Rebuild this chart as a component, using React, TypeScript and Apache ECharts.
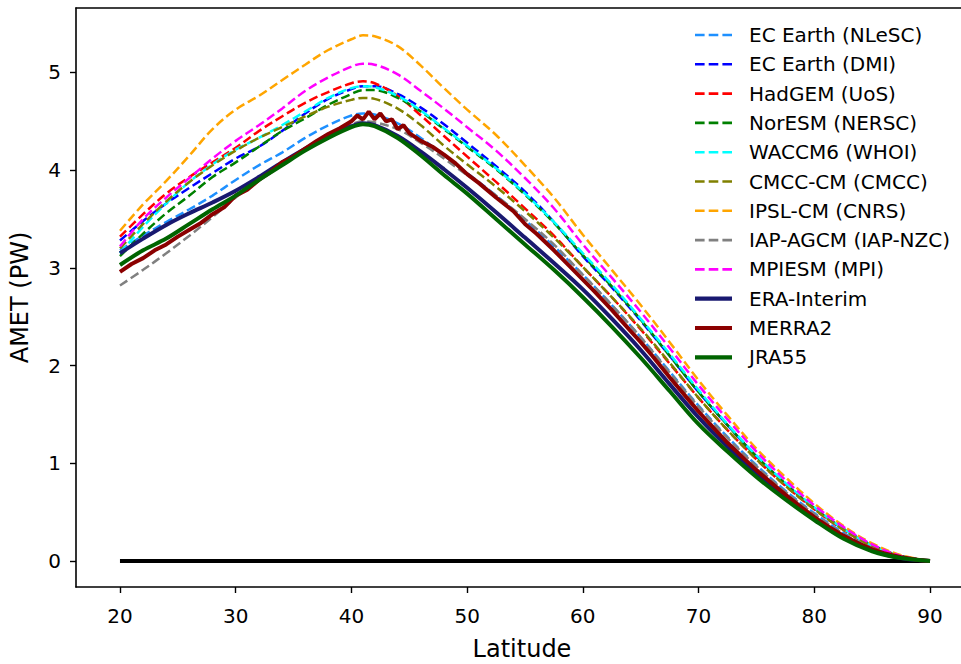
import React, { useEffect, useRef } from "react";
import * as echarts from "echarts";

const LAT = [20, 22, 24, 26, 28, 30, 32, 34, 36, 38, 40, 41, 42, 44, 46, 48, 50, 52.5, 55, 57.5, 60, 62.5, 65, 67.5, 70, 72.5, 75, 77.5, 80, 82.5, 85, 87.5, 90];

const EC_NLESC = [3.18, 3.33, 3.47, 3.60, 3.74, 3.90, 4.05, 4.18, 4.33, 4.46, 4.56, 4.58, 4.57, 4.48, 4.33, 4.15, 3.97, 3.74, 3.49, 3.22, 2.93, 2.62, 2.29, 1.94, 1.59, 1.27, 0.98, 0.72, 0.49, 0.29, 0.13, 0.04, 0.0];
const EC_DMI = [3.28, 3.48, 3.66, 3.82, 3.97, 4.12, 4.24, 4.40, 4.58, 4.73, 4.83, 4.86, 4.86, 4.78, 4.64, 4.47, 4.28, 4.04, 3.78, 3.47, 3.12, 2.80, 2.46, 2.10, 1.73, 1.39, 1.07, 0.79, 0.54, 0.33, 0.16, 0.05, 0.0];
const HADGEM = [3.32, 3.55, 3.76, 3.93, 4.08, 4.23, 4.40, 4.55, 4.69, 4.80, 4.89, 4.91, 4.89, 4.76, 4.56, 4.35, 4.14, 3.88, 3.61, 3.33, 3.01, 2.70, 2.37, 2.02, 1.67, 1.34, 1.04, 0.77, 0.53, 0.32, 0.15, 0.05, 0.0];
const NORESM = [3.12, 3.35, 3.56, 3.74, 3.93, 4.08, 4.24, 4.40, 4.53, 4.67, 4.78, 4.82, 4.82, 4.74, 4.60, 4.42, 4.24, 4.01, 3.75, 3.46, 3.13, 2.81, 2.47, 2.10, 1.73, 1.39, 1.07, 0.79, 0.54, 0.33, 0.16, 0.05, 0.0];
const WACCM6 = [3.15, 3.42, 3.66, 3.88, 4.06, 4.21, 4.33, 4.46, 4.60, 4.74, 4.84, 4.86, 4.85, 4.76, 4.61, 4.43, 4.25, 4.02, 3.76, 3.47, 3.15, 2.83, 2.48, 2.12, 1.75, 1.40, 1.08, 0.80, 0.55, 0.33, 0.16, 0.05, 0.0];
const CMCC = [3.20, 3.45, 3.68, 3.88, 4.05, 4.20, 4.33, 4.44, 4.55, 4.65, 4.72, 4.74, 4.73, 4.63, 4.46, 4.25, 4.06, 3.83, 3.58, 3.31, 3.01, 2.70, 2.38, 2.03, 1.67, 1.34, 1.04, 0.77, 0.53, 0.32, 0.15, 0.05, 0.0];
const IPSL = [3.38, 3.65, 3.89, 4.15, 4.42, 4.62, 4.76, 4.92, 5.08, 5.23, 5.34, 5.38, 5.37, 5.27, 5.07, 4.84, 4.62, 4.36, 4.05, 3.72, 3.34, 2.98, 2.62, 2.24, 1.85, 1.49, 1.15, 0.86, 0.59, 0.36, 0.18, 0.06, 0.0];
const IAP = [2.82, 2.98, 3.15, 3.33, 3.52, 3.72, 3.90, 4.06, 4.22, 4.36, 4.47, 4.50, 4.49, 4.42, 4.28, 4.12, 3.95, 3.74, 3.50, 3.24, 2.93, 2.62, 2.29, 1.93, 1.58, 1.26, 0.97, 0.71, 0.48, 0.28, 0.13, 0.04, 0.0];
const MPI = [3.22, 3.50, 3.72, 3.92, 4.12, 4.30, 4.46, 4.63, 4.81, 4.95, 5.06, 5.09, 5.08, 4.98, 4.81, 4.63, 4.44, 4.20, 3.92, 3.61, 3.24, 2.90, 2.55, 2.18, 1.80, 1.45, 1.12, 0.83, 0.57, 0.35, 0.17, 0.05, 0.0];
const ERA = [3.15, 3.30, 3.44, 3.56, 3.67, 3.79, 3.93, 4.08, 4.22, 4.35, 4.45, 4.48, 4.46, 4.35, 4.19, 4.01, 3.82, 3.57, 3.31, 3.05, 2.78, 2.48, 2.16, 1.81, 1.47, 1.17, 0.90, 0.66, 0.44, 0.25, 0.11, 0.03, 0.0];
const JRA = [3.03, 3.18, 3.30, 3.45, 3.60, 3.74, 3.90, 4.05, 4.20, 4.33, 4.44, 4.47, 4.45, 4.33, 4.15, 3.95, 3.76, 3.50, 3.24, 2.98, 2.70, 2.40, 2.08, 1.74, 1.40, 1.12, 0.86, 0.63, 0.42, 0.23, 0.10, 0.03, 0.0];

const MERRA_LAT = [20, 21, 22, 23, 24, 25, 26, 27, 28, 29, 30, 31, 32, 33, 34, 35, 36, 37, 38, 39, 40, 40.5, 41, 41.5, 42, 42.5, 43, 43.5, 44, 44.5, 45, 46, 47, 48, 49, 50, 51, 52.5, 54, 55, 56, 57.5, 59, 60, 61, 62.5, 64, 65, 66, 67.5, 69, 70, 71, 72.5, 74, 75, 76, 77.5, 79, 80, 81, 82.5, 84, 85, 86, 87.5, 89, 90];
const MERRA = [2.96, 3.04, 3.10, 3.18, 3.24, 3.32, 3.39, 3.46, 3.55, 3.62, 3.74, 3.80, 3.90, 3.98, 4.08, 4.14, 4.22, 4.30, 4.37, 4.43, 4.50, 4.56, 4.52, 4.60, 4.52, 4.58, 4.50, 4.52, 4.42, 4.46, 4.38, 4.30, 4.24, 4.16, 4.07, 3.96, 3.87, 3.72, 3.58, 3.45, 3.35, 3.18, 3.00, 2.88, 2.76, 2.57, 2.37, 2.24, 2.10, 1.88, 1.67, 1.53, 1.40, 1.21, 1.04, 0.93, 0.83, 0.68, 0.54, 0.45, 0.37, 0.26, 0.17, 0.12, 0.08, 0.04, 0.01, 0.0];

const ZERO_LAT = [20, 90];
const ZERO_VAL = [0, 0];

const X_TICKS = [20, 30, 40, 50, 60, 70, 80, 90];
const Y_TICKS = [0, 1, 2, 3, 4, 5];

const NAMES = ["EC Earth (NLeSC)", "EC Earth (DMI)", "HadGEM (UoS)", "NorESM (NERSC)", "WACCM6 (WHOI)", "CMCC-CM (CMCC)", "IPSL-CM (CNRS)", "IAP-AGCM (IAP-NZC)", "MPIESM (MPI)", "ERA-Interim", "MERRA2", "JRA55"];
const COLORS = ["#1E90FF", "#0000FF", "#FF0000", "#008000", "#00FFFF", "#808000", "#FFA500", "#808080", "#FF00FF", "#191970", "#8B0000", "#006400"];

const FONT = "DejaVu Sans";
const DASH_ICON = "path://M0,0H9.6V1H0Z M13.7,0H23.3V1H13.7Z M27.4,0H37V1H27.4Z";
const SOLID_ICON = "path://M0,0H37V1H0Z";

export default function App() {
  const ref = useRef<HTMLDivElement>(null);
  useEffect(() => {
    if (!ref.current) return;
    const chart = echarts.init(ref.current, null, { renderer: "svg" });
    const pair = (xs: number[], ys: number[]) => xs.map((x, i) => [x, ys[i]]);
    const modelData = [EC_NLESC, EC_DMI, HADGEM, NORESM, WACCM6, CMCC, IPSL, IAP, MPI];
    const series: any[] = [
      {
        type: "line",
        name: "zero",
        data: pair(ZERO_LAT, ZERO_VAL),
        symbol: "none",
        lineStyle: { color: "#000", width: 3.8 },
        silent: true,
      },
    ];
    modelData.forEach((d, i) => {
      series.push({
        type: "line",
        name: NAMES[i],
        data: pair(LAT, d),
        symbol: "none",
        smooth: 0.35,
        lineStyle: { color: COLORS[i], width: 2.5, type: [9, 4] },
        itemStyle: { color: COLORS[i] },
      });
    });
    const solid = [
      [LAT, ERA],
      [MERRA_LAT, MERRA],
      [LAT, JRA],
    ];
    solid.forEach((s, j) => {
      const i = 9 + j;
      series.push({
        type: "line",
        name: NAMES[i],
        data: pair(s[0] as number[], s[1] as number[]),
        symbol: "none",
        smooth: j === 1 ? false : 0.35,
        lineStyle: { color: COLORS[i], width: 4 },
        itemStyle: { color: COLORS[i] },
      });
    });

    const legendText = { fontFamily: FONT, fontSize: 20, color: "#000", lineHeight: 20, padding: [0, 0, 0, 12] };
    const axisCommon = {
      type: "value",
      min: 16.2,
      max: 92.68,
    };

    chart.setOption({
      animation: false,
      backgroundColor: "#fff",
      grid: {
        left: 76,
        top: 8,
        width: 885,
        height: 579,
        show: false,
        containLabel: false,
        outerBoundsMode: "none",
      },
      legend: [
        {
          data: NAMES.slice(0, 9).map((n) => ({ name: n, icon: DASH_ICON })),
          orient: "vertical",
          left: 690,
          top: 20,
          itemWidth: 37,
          itemHeight: 2.6,
          itemGap: 9.3,
          symbolKeepAspect: false,
          itemStyle: { borderWidth: 0 },
          textStyle: legendText,
          selectedMode: false,
        },
        {
          data: NAMES.slice(9).map((n) => ({ name: n, icon: SOLID_ICON })),
          orient: "vertical",
          left: 690,
          top: 283.7,
          itemWidth: 37,
          itemHeight: 4.2,
          itemGap: 9.3,
          symbolKeepAspect: false,
          itemStyle: { borderWidth: 0 },
          textStyle: legendText,
          selectedMode: false,
        },
      ],
      xAxis: [
        {
          ...axisCommon,
          name: "Latitude",
          nameLocation: "middle",
          nameGap: 50,
          nameTextStyle: { fontFamily: FONT, fontSize: 24, color: "#000", padding: [0, 0, 0, 7] },
          axisLine: { show: true, onZero: false, lineStyle: { color: "#000", width: 1.6 } },
          axisTick: { show: true, inside: false, length: 6, customValues: X_TICKS, lineStyle: { color: "#000", width: 1.4 } },
          axisLabel: { fontFamily: FONT, fontSize: 20, color: "#000", margin: 19, customValues: X_TICKS },
          splitLine: { show: false },
        },
        {
          ...axisCommon,
          position: "top",
          axisLine: { show: true, onZero: false, lineStyle: { color: "#000", width: 1.6 } },
          axisTick: { show: false },
          axisLabel: { show: false },
          splitLine: { show: false },
        },
      ],
      yAxis: {
        type: "value",
        min: -0.266,
        max: 5.66,
        name: "AMET (PW)",
        nameLocation: "middle",
        nameGap: 44,
        nameTextStyle: { fontFamily: FONT, fontSize: 24, color: "#000" },
        axisLine: { show: true, onZero: false, lineStyle: { color: "#000", width: 1.6 } },
        axisTick: { show: true, inside: false, length: 6, customValues: Y_TICKS, lineStyle: { color: "#000", width: 1.4 } },
        axisLabel: { fontFamily: FONT, fontSize: 20, color: "#000", margin: 15, customValues: Y_TICKS },
        splitLine: { show: false },
      },
      series,
    });
    return () => chart.dispose();
  }, []);
  return <div ref={ref} style={{ position: "absolute", left: 0, top: 0, width: 961, height: 664 }} />;
}
